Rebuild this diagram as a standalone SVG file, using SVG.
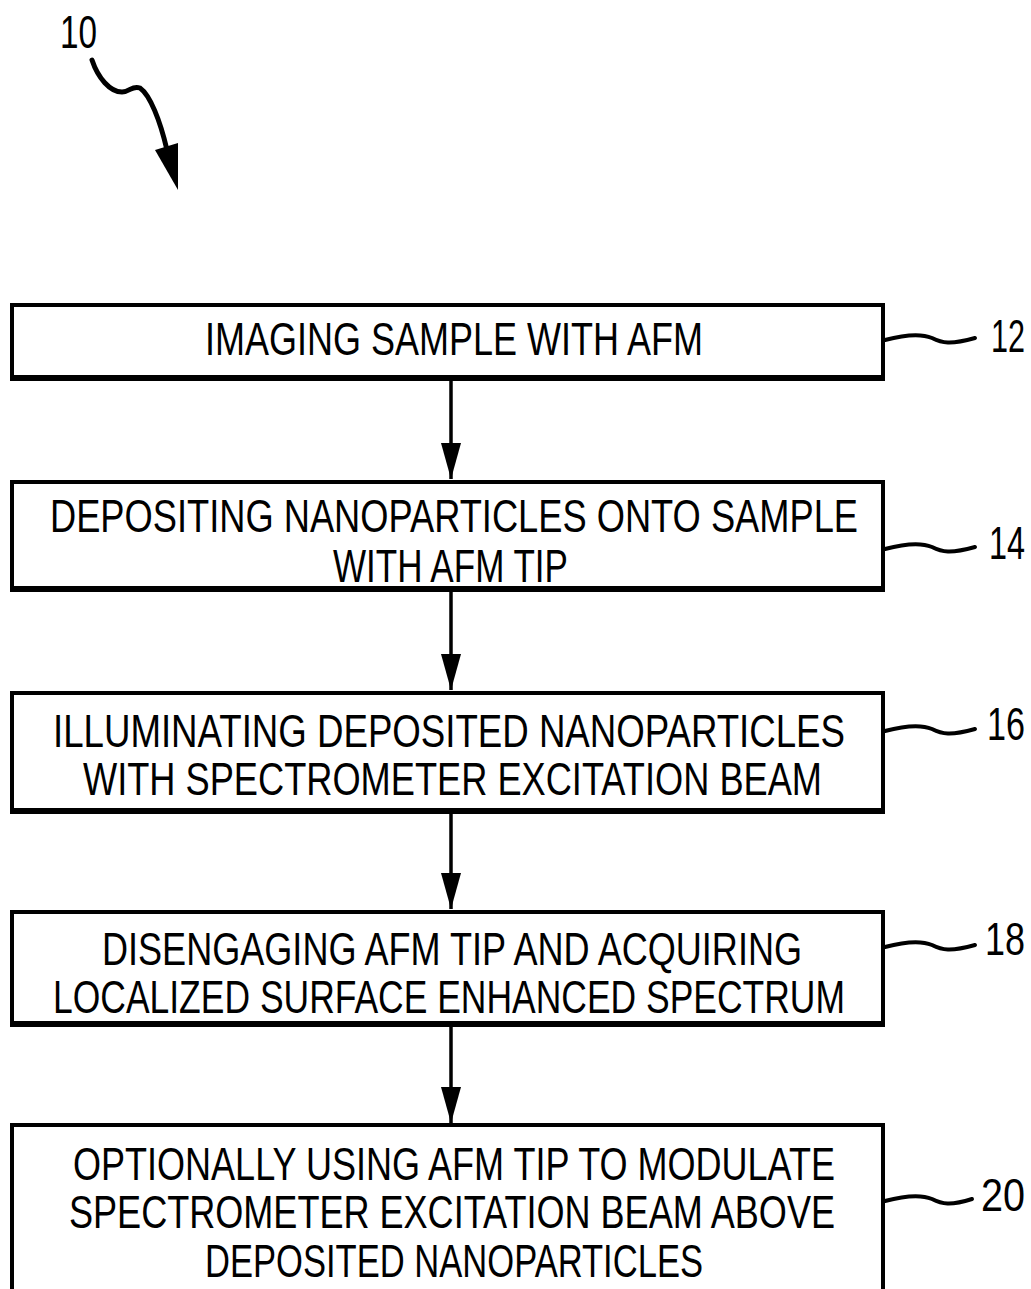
<svg xmlns="http://www.w3.org/2000/svg" width="1031" height="1289" viewBox="0 0 1031 1289">
<defs>
<style>
.box{fill:#fff;stroke:#000;stroke-width:4}
.base{stroke:#000;stroke-width:6}
.t{font-family:"Liberation Sans",Arial,sans-serif;font-size:46px;fill:#000}
.n{font-family:"Liberation Sans",Arial,sans-serif;font-size:47px;fill:#000}
.c{stroke:#000;stroke-width:3.5;fill:none}
.sq{stroke:#000;stroke-width:4;fill:none;stroke-linecap:round}
</style>
<marker id="ah" markerUnits="userSpaceOnUse" markerWidth="36" markerHeight="20" viewBox="0 0 36 20" refX="36" refY="10" orient="auto">
<path d="M0,0 L36,10 L0,20 Z" fill="#000"/>
</marker>
</defs>
<rect width="1031" height="1289" fill="#fff"/>

<g id="ref10">
<text class="n" x="60" y="48" textLength="37" lengthAdjust="spacingAndGlyphs">10</text>
<path class="sq" style="stroke-width:5" d="M92,60 C98,78 110,92 122,92 C130,92 132,85 140,88 C150,95 160,120 167,150"/>
<polygon points="155,150 178,143 178,190" fill="#000"/>
</g>

<g id="connectors">
<line class="c" x1="451" y1="380" x2="451" y2="479" marker-end="url(#ah)"/>
<line class="c" x1="451" y1="592" x2="451" y2="690" marker-end="url(#ah)"/>
<line class="c" x1="451" y1="814" x2="451" y2="909" marker-end="url(#ah)"/>
<line class="c" x1="451" y1="1026" x2="451" y2="1123" marker-end="url(#ah)"/>
</g>

<g id="n12">
<rect class="box" x="12" y="305" width="871" height="73"/>
<line class="base" x1="10" y1="378" x2="885" y2="378"/>
<text class="t" x="205" y="355" textLength="498" lengthAdjust="spacingAndGlyphs">IMAGING SAMPLE WITH AFM</text>
<path class="sq" d="M885,340 C900,336 920,333 932,338 C942,343 950,345 975,338"/>
<text class="n" x="1025" y="352" text-anchor="end" textLength="34" lengthAdjust="spacingAndGlyphs">12</text>
</g>

<g id="n14">
<rect class="box" x="12" y="482" width="871" height="107"/>
<line class="base" x1="10" y1="589" x2="885" y2="589"/>
<text class="t" x="50" y="532" textLength="808" lengthAdjust="spacingAndGlyphs">DEPOSITING NANOPARTICLES ONTO SAMPLE</text>
<text class="t" x="333" y="582" textLength="235" lengthAdjust="spacingAndGlyphs">WITH AFM TIP</text>
<path class="sq" d="M885,549 C900,545 920,542 932,547 C942,552 950,554 975,547"/>
<text class="n" x="1025" y="559" text-anchor="end" textLength="36" lengthAdjust="spacingAndGlyphs">14</text>
</g>

<g id="n16">
<rect class="box" x="12" y="693" width="871" height="118"/>
<line class="base" x1="10" y1="811" x2="885" y2="811"/>
<text class="t" x="53" y="747" textLength="792" lengthAdjust="spacingAndGlyphs">ILLUMINATING DEPOSITED NANOPARTICLES</text>
<text class="t" x="83" y="795" textLength="739" lengthAdjust="spacingAndGlyphs">WITH SPECTROMETER EXCITATION BEAM</text>
<path class="sq" d="M885,731 C900,727 920,724 932,729 C942,734 950,736 975,729"/>
<text class="n" x="1025" y="740" text-anchor="end" textLength="38" lengthAdjust="spacingAndGlyphs">16</text>
</g>

<g id="n18">
<rect class="box" x="12" y="912" width="871" height="112"/>
<line class="base" x1="10" y1="1024" x2="885" y2="1024"/>
<text class="t" x="102" y="965" textLength="700" lengthAdjust="spacingAndGlyphs">DISENGAGING AFM TIP AND ACQUIRING</text>
<text class="t" x="53" y="1013" textLength="792" lengthAdjust="spacingAndGlyphs">LOCALIZED SURFACE ENHANCED SPECTRUM</text>
<path class="sq" d="M885,947 C900,943 920,940 932,945 C942,950 950,952 975,945"/>
<text class="n" x="1025" y="955" text-anchor="end" textLength="40" lengthAdjust="spacingAndGlyphs">18</text>
</g>

<g id="n20">
<rect class="box" x="12" y="1125" width="871" height="190"/>
<text class="t" x="73" y="1180" textLength="762" lengthAdjust="spacingAndGlyphs">OPTIONALLY USING AFM TIP TO MODULATE</text>
<text class="t" x="69" y="1228" textLength="766" lengthAdjust="spacingAndGlyphs">SPECTROMETER EXCITATION BEAM ABOVE</text>
<text class="t" x="205" y="1277" textLength="498" lengthAdjust="spacingAndGlyphs">DEPOSITED NANOPARTICLES</text>
<path class="sq" d="M885,1201 C900,1197 920,1194 932,1199 C942,1204 950,1206 972,1199"/>
<text class="n" x="1025" y="1211" text-anchor="end" textLength="44" lengthAdjust="spacingAndGlyphs">20</text>
</g>
</svg>
